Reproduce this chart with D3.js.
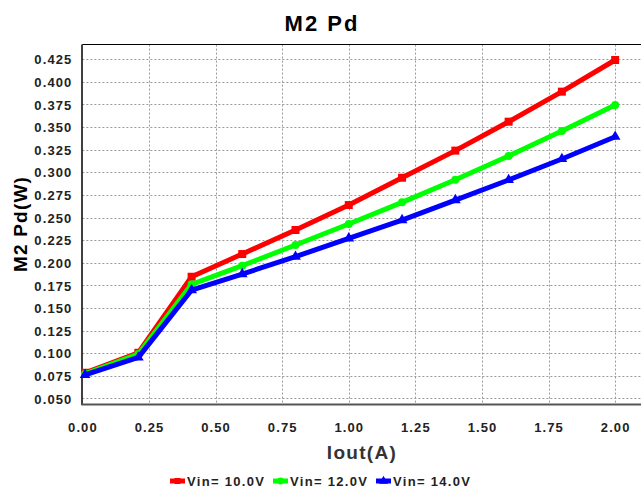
<!DOCTYPE html>
<html>
<head>
<meta charset="utf-8">
<script src="https://cdn.jsdelivr.net/npm/d3@7"></script>
<style>
  html, body { margin: 0; padding: 0; background: #fff; }
  svg { display: block; font-family: "Liberation Sans", Arial, sans-serif; }
</style>
</head>
<body>
<svg id="chart" width="641" height="488"></svg>
<script>
// Output current (A) at each measurement point
const iout = [0.01, 0.21, 0.41, 0.6, 0.8, 1.0, 1.2, 1.4, 1.6, 1.8, 2.0];
// M2 power dissipation (W) per input voltage
const pd10 = [0.0783, 0.1004, 0.1845, 0.2096, 0.2362, 0.2638, 0.2940, 0.3240, 0.3560, 0.3892, 0.4242];
const pd12 = [0.0770, 0.0990, 0.1761, 0.1967, 0.2196, 0.2428, 0.2668, 0.2918, 0.3180, 0.3457, 0.3745];
const pd14 = [0.0760, 0.0953, 0.1698, 0.1875, 0.2067, 0.2270, 0.2472, 0.2693, 0.2915, 0.3147, 0.3394];
const seriesNames = ["Vin= 10.0V", "Vin= 12.0V", "Vin= 14.0V"];
const seriesColors = ["#ff0000", "#00ff00", "#0000ff"];
const xTicks = [0, 0.25, 0.5, 0.75, 1.0, 1.25, 1.5, 1.75, 2.0];
const yTicks = [0.05, 0.075, 0.1, 0.125, 0.15, 0.175, 0.2, 0.225, 0.25, 0.275, 0.3, 0.325, 0.35, 0.375, 0.4, 0.425];

const svg = d3.select("#chart");
const plot = { left: 82.4, right: 641.8, top: 44.6, bottom: 404 };

const x = d3.scaleLinear().domain([0, 2.1]).range([plot.left, plot.right]);
const y = d3.scaleLinear().domain([0.04375, 0.44125]).range([plot.bottom, plot.top]);

// Grid
const grid = svg.append("g").attr("stroke", "#9a9a9a").attr("stroke-width", 1)
  .attr("stroke-dasharray", "2,2");
grid.selectAll("line.h").data(yTicks).join("line")
  .attr("x1", plot.left).attr("x2", plot.right)
  .attr("y1", d => Math.round(y(d)) + 0.5).attr("y2", d => Math.round(y(d)) + 0.5);
grid.selectAll("line.v").data(xTicks.slice(1)).join("line")
  .attr("y1", plot.top).attr("y2", plot.bottom)
  .attr("x1", d => Math.round(x(d)) + 0.5).attr("x2", d => Math.round(x(d)) + 0.5);

// Frame
svg.append("line").attr("x1", plot.left).attr("x2", plot.right)
  .attr("y1", 44.5).attr("y2", 44.5).attr("stroke", "#000").attr("stroke-width", 1.2);
svg.append("line").attr("x1", 82).attr("x2", 82)
  .attr("y1", plot.top).attr("y2", plot.bottom + 1).attr("stroke", "#000").attr("stroke-width", 1.5);
svg.append("line").attr("x1", plot.left - 1).attr("x2", plot.right)
  .attr("y1", 404.5).attr("y2", 404.5).attr("stroke", "#555").attr("stroke-width", 2);

// Axes (labels only, lines drawn above)
const xAxis = d3.axisBottom(x).tickValues(xTicks).tickFormat(d3.format(".2f")).tickSize(0).tickPadding(0);
const gx = svg.append("g").attr("transform", `translate(0,${plot.bottom})`).call(xAxis);
gx.select(".domain").remove();
gx.selectAll("text").attr("dy", null).attr("y", 28)
  .attr("font-size", 13).attr("font-weight", "bold").attr("fill", "#222")
  .attr("font-family", "Liberation Sans, Arial, sans-serif").style("letter-spacing", "1.1px");

const yAxis = d3.axisLeft(y).tickValues(yTicks).tickFormat(d3.format(".3f")).tickSize(0).tickPadding(0);
const gy = svg.append("g").attr("transform", `translate(${plot.left},0)`).call(yAxis);
gy.select(".domain").remove();
gy.selectAll("text").attr("x", -10).attr("dy", "0.36em")
  .attr("font-size", 13).attr("font-weight", "bold").attr("fill", "#222")
  .attr("font-family", "Liberation Sans, Arial, sans-serif").style("letter-spacing", "1.1px");

// Series
const allSeries = [pd10, pd12, pd14];
const line = d3.line().x((d, i) => x(iout[i])).y(d => y(d));

const markerPath = [
  d3.symbol(d3.symbolSquare, 64),
  d3.symbol(d3.symbolCircle, 50),
  d3.symbol(d3.symbolTriangle, 50)
];

allSeries.forEach((vals, k) => {
  svg.append("path").datum(vals)
    .attr("d", line).attr("fill", "none")
    .attr("stroke", seriesColors[k]).attr("stroke-width", 5)
    .attr("stroke-linejoin", "round");
  svg.append("g").selectAll("path").data(vals).join("path")
    .attr("transform", (d, i) => `translate(${x(iout[i])},${y(d)})`)
    .attr("d", markerPath[k]())
    .attr("fill", seriesColors[k]);
});

// Titles
svg.append("text").attr("x", 322).attr("y", 30.5).attr("text-anchor", "middle")
  .attr("font-size", 22).attr("font-weight", "bold").attr("fill", "#000")
  .style("letter-spacing", "2px").text("M2 Pd");

svg.append("text").attr("x", 362).attr("y", 459).attr("text-anchor", "middle")
  .attr("font-size", 19).attr("font-weight", "bold").attr("fill", "#333")
  .style("letter-spacing", "1.3px").text("Iout(A)");

svg.append("text").attr("transform", "translate(27,224) rotate(-90)")
  .attr("text-anchor", "middle")
  .attr("font-size", 19).attr("font-weight", "bold").attr("fill", "#000")
  .style("letter-spacing", "1.2px").text("M2 Pd(W)");

// Legend
const legendX = [170, 273, 376];
const legend = svg.append("g");
seriesNames.forEach((name, k) => {
  const g = legend.append("g").attr("transform", `translate(${legendX[k]},481)`);
  g.append("line").attr("x1", 0).attr("x2", 15).attr("y1", 0).attr("y2", 0)
    .attr("stroke", seriesColors[k]).attr("stroke-width", 5);
  g.append("path").attr("transform", "translate(7.5,0)")
    .attr("d", d3.symbol([d3.symbolSquare, d3.symbolCircle, d3.symbolTriangle][k], 36)())
    .attr("fill", seriesColors[k]);
  g.append("text").attr("x", 17).attr("y", 5)
    .attr("font-size", 13).attr("font-weight", "bold").attr("fill", "#222")
    .style("letter-spacing", "1.3px").text(name);
});
</script>
</body>
</html>
